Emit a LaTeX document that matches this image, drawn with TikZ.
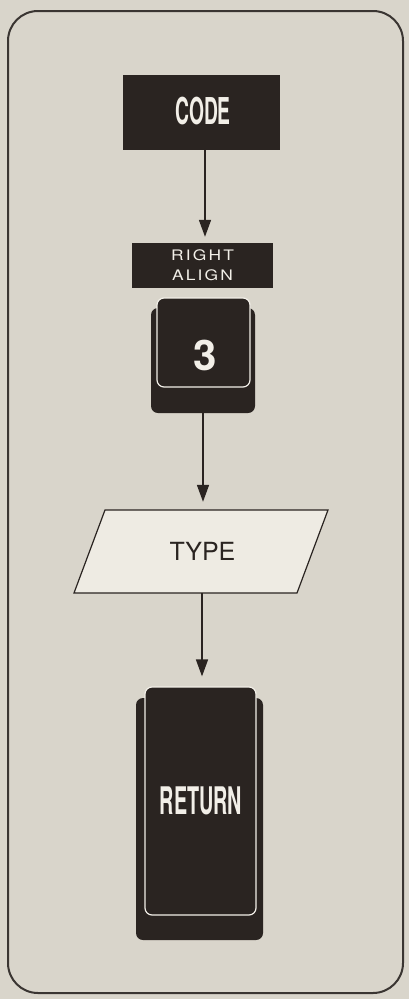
\documentclass[tikz,border=0pt]{standalone}
\usepackage{fontspec}
\setmainfont{TeX Gyre Heros}
\newfontfamily\condfont[FakeStretch=0.52]{TeX Gyre Heros}
\newfontfamily\widefont[FakeStretch=1.2,LetterSpace=15]{TeX Gyre Heros}
\usetikzlibrary{arrows.meta}
\definecolor{paper}{HTML}{D9D5CB}
\definecolor{ink}{HTML}{2A2421}
\definecolor{frameline}{HTML}{3A3532}
\definecolor{boxfill}{HTML}{EEEBE3}
\definecolor{keytext}{HTML}{F2EFE8}
\tikzset{
  blackbox/.style={fill=ink, draw=none, inner sep=0pt, text=keytext},
  keyback/.style={fill=ink, draw=none, rounded corners=7pt, inner sep=0pt},
  keycap/.style={fill=ink, draw=keytext, line width=1.2pt, rounded corners=7pt, inner sep=0pt, text=keytext},
  arr/.style={draw=ink, line width=1.6pt, -{Triangle[length=17pt,width=12pt]}},
  para/.style={fill=boxfill, draw=ink, line width=1.2pt, line join=miter},
}
\begin{document}
\begin{tikzpicture}[x=1pt,y=-1pt]
\useasboundingbox (0,0) rectangle (409,999);
\fill[paper] (0,0) rectangle (409,999);
\draw[frameline, line width=2pt, rounded corners=30pt] (8,11) rectangle (403,993);

% CODE
\node[blackbox, minimum width=157pt, minimum height=75pt] (code) at (201.5,112.5) {};
\node[text=keytext, inner sep=0pt, font=\condfont\bfseries\fontsize{37}{37}\selectfont] (codetxt) at (203,111.5) {CODE};

% RIGHT ALIGN
\node[blackbox, minimum width=141pt, minimum height=45pt, align=center,
      font=\widefont\fontsize{14.5}{20}\selectfont] (ralign) at (202.5,265.5) {RIGHT\\ALIGN};

% key 3
\node[keyback, minimum width=104pt, minimum height=105pt] (k3back) at (203,360.5) {};
\node[keycap, minimum width=93pt, minimum height=89pt] (k3cap) at (203.5,342.5) {};
\node[text=keytext, font=\bfseries\fontsize{42}{42}\selectfont, inner sep=0pt] (k3txt) at (205,355) {3};

% TYPE
\coordinate (tc) at (201,551.5);
\draw[para] ([shift={(-96,-41.5)}]tc) -- ([shift={(127,-41.5)}]tc)
   -- ([shift={(96,41.5)}]tc) -- ([shift={(-127,41.5)}]tc) -- cycle;
\node[minimum width=190pt, minimum height=83pt, inner sep=0pt, text=ink,
      font=\fontsize{25}{25}\selectfont] (type) at (tc) {\hspace*{3pt}TYPE};

% RETURN key
\node[keyback, minimum width=127pt, minimum height=242pt] (retback) at (199.5,819) {};
\node[keycap, minimum width=111pt, minimum height=228pt] (retcap) at (200.5,801) {};
\node[text=keytext, font=\condfont\bfseries\fontsize{38}{38}\selectfont, inner sep=0pt] (rettxt) at (201,801) {RETURN};

% connectors
\draw[arr, shorten >=6pt] (205,0 |- code.south) -- (205,0 |- ralign.north);
\draw[arr, shorten >=8pt] (203,0 |- k3back.south) -- (203,0 |- type.north);
\draw[arr, shorten >=10pt] (202,0 |- type.south) -- (202,0 |- retcap.north);
\end{tikzpicture}
\end{document}
